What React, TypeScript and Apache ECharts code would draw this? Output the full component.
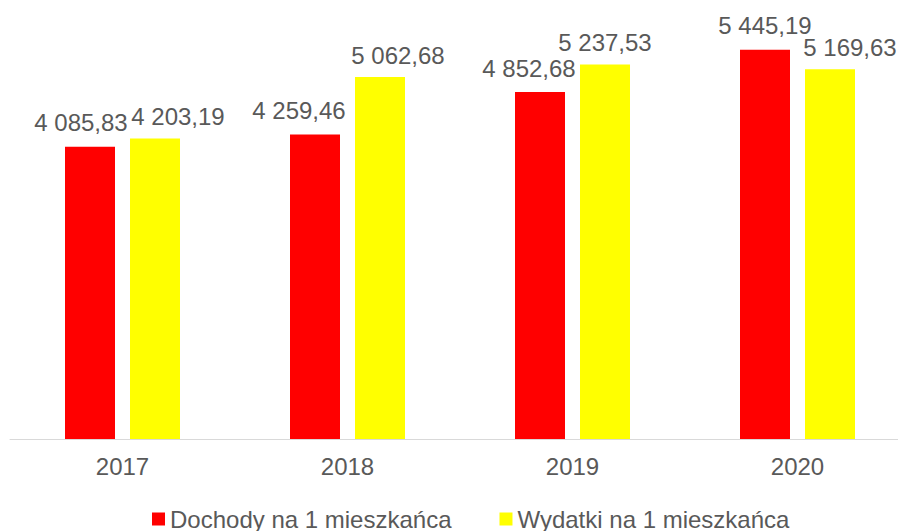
import React, { useEffect, useRef } from "react";
import * as echarts from "echarts";

const categories = ["2017", "2018", "2019", "2020"];
const dochody = [4085.83, 4259.46, 4852.68, 5445.19];
const wydatki = [4203.19, 5062.68, 5237.53, 5169.63];
const seriesNames = ["Dochody na 1 mieszkańca", "Wydatki na 1 mieszkańca"];

// horizontal label shifts (px), mimicking the reference's overlap avoidance
const dochodyLabelShift = [-9, -16, -11, 0];
const wydatkiLabelShift = [23, 18, 0, 20];

const FONT = "'Liberation Sans', Arial, sans-serif";
const TEXT = "#595959";
const FS = 24;

function fmt(v: number): string {
  const [intPart, dec] = v.toFixed(2).split(".");
  const withSpaces = intPart.replace(/\B(?=(\d{3})+(?!\d))/g, " ");
  return withSpaces + "," + dec;
}

export default function App() {
  const ref = useRef<HTMLDivElement>(null);
  useEffect(() => {
    if (!ref.current) return;
    const chart = echarts.init(ref.current, undefined, { renderer: "svg" });
    const mk = (vals: number[], shifts: number[]) =>
      vals.map((v, i) => ({ value: v, label: { offset: [shifts[i], 0] } }));
    chart.setOption({
      animation: false,
      backgroundColor: "#ffffff",
      textStyle: { fontFamily: FONT },
      grid: {
        left: 10,
        right: 0,
        top: 10,
        bottom: 92,
        containLabel: false,
        outerBoundsMode: "none",
      },
      legend: {
        left: 152,
        top: 507,
        padding: 0,
        itemWidth: 13,
        itemHeight: 13,
        itemGap: 48,
        icon: "rect",
        textStyle: { fontFamily: FONT, fontSize: FS, color: TEXT },
        data: seriesNames,
      },
      xAxis: {
        type: "category",
        data: categories,
        axisLine: { lineStyle: { color: "#d9d9d9", width: 1 } },
        axisTick: { show: false },
        axisLabel: { fontFamily: FONT, fontSize: FS, color: TEXT, margin: 15 },
      },
      yAxis: {
        type: "value",
        min: 0,
        max: 6000,
        show: false,
        splitLine: { show: false },
      },
      series: [
        {
          name: seriesNames[0],
          type: "bar",
          barWidth: 50,
          barGap: "30%",
          itemStyle: { color: "#ff0000" },
          label: {
            show: true,
            position: "top",
            distance: 12,
            fontFamily: FONT,
            fontSize: FS,
            color: TEXT,
            formatter: (p: any) => fmt(p.value),
          },
          data: mk(dochody, dochodyLabelShift),
        },
        {
          name: seriesNames[1],
          type: "bar",
          barWidth: 50,
          barGap: "30%",
          itemStyle: { color: "#ffff00" },
          label: {
            show: true,
            position: "top",
            distance: 10,
            fontFamily: FONT,
            fontSize: FS,
            color: TEXT,
            formatter: (p: any) => fmt(p.value),
          },
          data: mk(wydatki, wydatkiLabelShift),
        },
      ],
    });
    return () => chart.dispose();
  }, []);
  return (
    <div
      ref={ref}
      style={{ position: "fixed", left: 0, top: 0, width: 910, height: 531 }}
    />
  );
}
